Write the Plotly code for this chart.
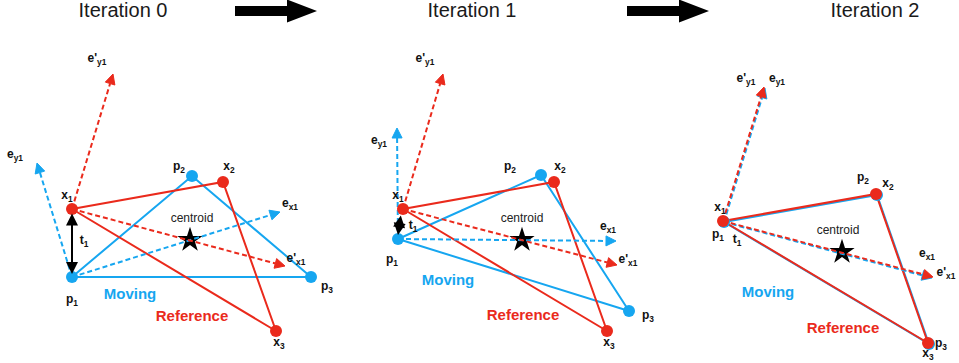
import math
import plotly.graph_objects as go

BLUE = "#16A6F0"
RED = "#EA2A1C"
FONT = "Liberation Sans"

# ---------------- data (pixel-space diagram coordinates) ----------------
titles = ["Iteration 0", "Iteration 1", "Iteration 2"]
title_x = [123, 472, 875]
title_y = [12, 12, 12]

# big transition arrows: start x, end x, head start x, centre y
big_arrow_x0 = [235, 627]
big_arrow_x1 = [317, 709]
big_arrow_head = [287, 679]
big_arrow_y = [11, 11]

# moving triangle (p1, p2, p3) per iteration
moving_x = [[72, 192, 311], [398, 541, 629], [724, 877, 929]]
moving_y = [[277, 176, 277], [239, 175, 311], [222, 195, 344]]
# reference triangle (x1, x2, x3) per iteration
ref_x = [[72, 223, 276], [403, 554, 607], [723, 876, 928]]
ref_y = [[209, 182, 331], [209, 182, 331], [221, 194, 343]]
# centroids
cent_x = [190, 522, 842]
cent_y = [240, 240, 252]

# axis arrow tips (moving: e_x1, e_y1 from p1 ; reference: e'_x1, e'_y1 from x1)
ex_tip_x = [280, 616, 932]
ex_tip_y = [212, 241, 278]
ey_tip_x = [37, 397, 765]
ey_tip_y = [163, 128, 88]
epx_tip_x = [285, 617, 933]
epx_tip_y = [266, 265, 277]
epy_tip_x = [113, 443, 764]
epy_tip_y = [74, 74, 87]

# translation arrows t1 (tail, head)
t_x0 = [72, 401]
t_y0 = [212, 214]
t_x1 = [72, 398]
t_y1 = [274, 235]

# labels
lab_text = [
    "e'<sub>y1</sub>", "e<sub>y1</sub>", "x<sub>1</sub>", "p<sub>2</sub>", "x<sub>2</sub>",
    "e<sub>x1</sub>", "e'<sub>x1</sub>", "t<sub>1</sub>", "p<sub>1</sub>", "p<sub>3</sub>", "x<sub>3</sub>",
    "e'<sub>y1</sub>", "e<sub>y1</sub>", "x<sub>1</sub>", "p<sub>2</sub>", "x<sub>2</sub>",
    "e<sub>x1</sub>", "e'<sub>x1</sub>", "t<sub>1</sub>", "p<sub>1</sub>", "p<sub>3</sub>", "x<sub>3</sub>",
    "e'<sub>y1</sub>", "e<sub>y1</sub>", "x<sub>1</sub>", "p<sub>2</sub>", "x<sub>2</sub>",
    "e<sub>x1</sub>", "e'<sub>x1</sub>", "t<sub>1</sub>", "p<sub>1</sub>", "p<sub>3</sub>", "x<sub>3</sub>",
]
lab_x = [97, 15, 67, 179, 229, 290, 296, 84, 72, 327, 279,
         425, 379, 398, 510, 560, 608, 628, 413, 392, 648, 609,
         746, 777, 720, 863, 888, 927, 946, 737, 718, 941, 928]
lab_y = [59, 155, 196, 167, 167, 204, 259, 241, 300, 287, 343,
         59, 141, 196, 167, 167, 227, 260, 226, 260, 316, 343,
         79, 79, 208, 178, 184, 254, 273, 240, 235, 344, 354]

centroid_label_x = [192, 522, 838]
centroid_label_y = [219, 219, 231]
moving_label_x = [130, 448, 768]
moving_label_y = [295, 281, 293]
reference_label_x = [192, 523, 843]
reference_label_y = [317, 316, 329]

# ---------------- figure ----------------
fig = go.Figure()
DASH = "5px,3px"
HEAD_LEN = 10
HEAD_HALF = 5


def dashed_arrow(x0, y0, x1, y1, color):
    L = math.hypot(x1 - x0, y1 - y0)
    ux, uy = (x1 - x0) / L, (y1 - y0) / L
    bx, by = x1 - ux * HEAD_LEN, y1 - uy * HEAD_LEN
    # dashed shaft up to the base of the head
    fig.add_trace(go.Scatter(
        x=[x0, bx], y=[y0, by], mode="lines",
        line=dict(color=color, width=2, dash=DASH),
        hoverinfo="skip", showlegend=False))
    # filled triangular head
    fig.add_trace(go.Scatter(
        x=[x1, bx - uy * HEAD_HALF, bx + uy * HEAD_HALF, x1],
        y=[y1, by + ux * HEAD_HALF, by - ux * HEAD_HALF, y1],
        mode="lines", fill="toself", fillcolor=color, line=dict(color=color, width=1),
        hoverinfo="skip", showlegend=False))


for i in range(3):
    mx, my, rx, ry = moving_x[i], moving_y[i], ref_x[i], ref_y[i]
    # triangles
    fig.add_trace(go.Scatter(x=mx + [mx[0]], y=my + [my[0]], mode="lines",
                             line=dict(color=BLUE, width=2), hoverinfo="skip", showlegend=False))
    fig.add_trace(go.Scatter(x=rx + [rx[0]], y=ry + [ry[0]], mode="lines",
                             line=dict(color=RED, width=2), hoverinfo="skip", showlegend=False))
    # centroid star
    fig.add_trace(go.Scatter(x=[cent_x[i]], y=[cent_y[i]], mode="markers",
                             marker=dict(symbol="star", size=19, color="black"),
                             hoverinfo="skip", showlegend=False))
    # local frames
    dashed_arrow(mx[0], my[0], ex_tip_x[i], ex_tip_y[i], BLUE)
    dashed_arrow(mx[0], my[0], ey_tip_x[i], ey_tip_y[i], BLUE)
    dashed_arrow(rx[0], ry[0], epx_tip_x[i], epx_tip_y[i], RED)
    dashed_arrow(rx[0], ry[0], epy_tip_x[i], epy_tip_y[i], RED)
    # vertices
    fig.add_trace(go.Scatter(x=mx, y=my, mode="markers",
                             marker=dict(size=12, color=BLUE), hoverinfo="skip", showlegend=False))
    fig.add_trace(go.Scatter(x=rx, y=ry, mode="markers",
                             marker=dict(size=12, color=RED), hoverinfo="skip", showlegend=False))

# labels
fig.add_trace(go.Scatter(x=lab_x, y=lab_y, text=["<b>" + t + "</b>" for t in lab_text], mode="text",
                         textfont=dict(family=FONT, size=12, color="#111"), cliponaxis=False,
                         hoverinfo="skip", showlegend=False))
fig.add_trace(go.Scatter(x=centroid_label_x, y=centroid_label_y, text=["centroid"] * 3, mode="text",
                         textfont=dict(family=FONT, size=12, color="#222"), cliponaxis=False,
                         hoverinfo="skip", showlegend=False))
fig.add_trace(go.Scatter(x=moving_label_x, y=moving_label_y, text=["<b>Moving</b>"] * 3, mode="text",
                         textfont=dict(family=FONT, size=15, color=BLUE), cliponaxis=False,
                         hoverinfo="skip", showlegend=False))
fig.add_trace(go.Scatter(x=reference_label_x, y=reference_label_y, text=["<b>Reference</b>"] * 3,
                         mode="text", textfont=dict(family=FONT, size=15, color=RED), cliponaxis=False,
                         hoverinfo="skip", showlegend=False))
fig.add_trace(go.Scatter(x=title_x, y=title_y, text=titles, mode="text",
                         textfont=dict(family=FONT, size=20, color="#1a1a1a"), cliponaxis=False,
                         hoverinfo="skip", showlegend=False))

# big black arrows (filled polygons)
for x0, x1, xh, yc in zip(big_arrow_x0, big_arrow_x1, big_arrow_head, big_arrow_y):
    fig.add_trace(go.Scatter(
        x=[x0, xh, xh, x1, xh, xh, x0, x0],
        y=[yc - 5, yc - 5, yc - 11.5, yc, yc + 11.5, yc + 5, yc + 5, yc - 5],
        mode="lines", fill="toself", fillcolor="black", line=dict(color="black", width=0),
        hoverinfo="skip", showlegend=False))

# t1 double arrows
for a, b, c, d in zip(t_x0, t_y0, t_x1, t_y1):
    fig.add_annotation(x=c, y=d, ax=a, ay=b, xref="x", yref="y", axref="x", ayref="y",
                       text="", showarrow=True, arrowhead=2, arrowside="end+start",
                       arrowsize=1.2, arrowwidth=2, arrowcolor="black")

fig.update_layout(
    width=959, height=363, margin=dict(l=0, r=0, t=0, b=0),
    paper_bgcolor="white", plot_bgcolor="white", hovermode=False,
    xaxis=dict(range=[0, 959], visible=False, fixedrange=True),
    yaxis=dict(range=[363, 0], visible=False, fixedrange=True),
)

# remove the default 8px page margin so the figure fills the window exactly
fig.write_html("out.html", config={"displayModeBar": False, "staticPlot": True},
               post_script="document.body.style.margin='0';document.body.style.overflow='hidden';")
